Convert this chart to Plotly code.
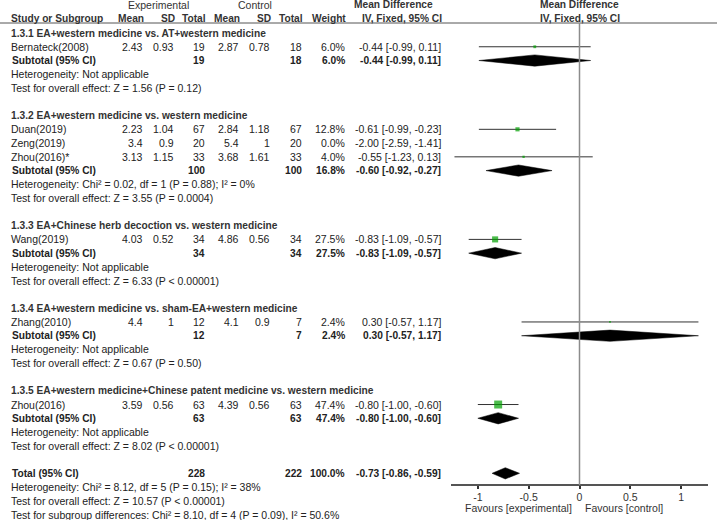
import plotly.graph_objects as go

W, H = 719, 520

# ---------------- data ----------------
studies = ["Bernateck(2008)", "Duan(2019)", "Zeng(2019)", "Zhou(2016)*",
           "Wang(2019)", "Zhang(2010)", "Zhou(2016)"]
study_group = [0, 1, 1, 1, 2, 3, 4]
exp_mean = [2.43, 2.23, 3.4, 3.13, 4.03, 4.4, 3.59]
exp_sd = [0.93, 1.04, 0.9, 1.15, 0.52, 1, 0.56]
exp_n = [19, 67, 20, 33, 34, 12, 63]
ctl_mean = [2.87, 2.84, 5.4, 3.68, 4.86, 4.1, 4.39]
ctl_sd = [0.78, 1.18, 1, 1.61, 0.56, 0.9, 0.56]
ctl_n = [18, 67, 20, 33, 34, 7, 63]
weight = [6.0, 12.8, 0.0, 4.0, 27.5, 2.4, 47.4]
md = [-0.44, -0.61, -2.00, -0.55, -0.83, 0.30, -0.80]
ci_lo = [-0.99, -0.99, -2.59, -1.23, -1.09, -0.57, -1.00]
ci_hi = [0.11, -0.23, -1.41, 0.13, -0.57, 1.17, -0.60]

group_titles = [
    "1.3.1 EA+western medicine vs. AT+western medicine",
    "1.3.2 EA+western medicine vs. western medicine",
    "1.3.3 EA+Chinese herb decoction vs. western medicine",
    "1.3.4 EA+western medicine vs. sham-EA+western medicine",
    "1.3.5 EA+western medicine+Chinese patent medicine vs. western medicine",
]
sub_exp_n = [19, 100, 34, 12, 63]
sub_ctl_n = [18, 100, 34, 7, 63]
sub_weight = [6.0, 16.8, 27.5, 2.4, 47.4]
sub_md = [-0.44, -0.60, -0.83, 0.30, -0.80]
sub_lo = [-0.99, -0.92, -1.09, -0.57, -1.00]
sub_hi = [0.11, -0.27, -0.57, 1.17, -0.60]
sub_het = [
    "Heterogeneity: Not applicable",
    "Heterogeneity: Chi² = 0.02, df = 1 (P = 0.88); I² = 0%",
    "Heterogeneity: Not applicable",
    "Heterogeneity: Not applicable",
    "Heterogeneity: Not applicable",
]
sub_test = [
    "Test for overall effect: Z = 1.56 (P = 0.12)",
    "Test for overall effect: Z = 3.55 (P = 0.0004)",
    "Test for overall effect: Z = 6.33 (P < 0.00001)",
    "Test for overall effect: Z = 0.67 (P = 0.50)",
    "Test for overall effect: Z = 8.02 (P < 0.00001)",
]
total_exp_n = 228
total_ctl_n = 222
total_weight = 100.0
total_md, total_lo, total_hi = -0.73, -0.86, -0.59
total_notes = [
    "Heterogeneity: Chi² = 8.12, df = 5 (P = 0.15); I² = 38%",
    "Test for overall effect: Z = 10.57 (P < 0.00001)",
    "Test for subgroup differences: Chi² = 8.10, df = 4 (P = 0.09), I² = 50.6%",
]
tick_vals = [-1, -0.5, 0, 0.5, 1]
tick_text = ["-1", "-0.5", "0", "0.5", "1"]

# ---------------- layout constants ----------------
ROW0_PX = 33.0
ROW_PX = 13.76
AXIS_PX = 485
HEADER_LINE_PX = 23
FONT = "Liberation Sans, Arial, sans-serif"
FS = 10.5
FSB = 10.2
TXT = "#222222"
HDR = "#333333"

col_right = dict(exp_mean=144, exp_sd=175, exp_n=206, ctl_mean=240,
                 ctl_sd=271, ctl_n=303, weight=346, ci=442)

def px(x):
    return x / W

def py(y):
    return 1 - y / H

annotations = []

def text(x, y, s, anchor="left", bold=False, color=TXT, xref="paper", yref="y"):
    annotations.append(dict(
        x=x, y=y, xref=xref, yref=yref, text=("<b>%s</b>" % s) if bold else s,
        showarrow=False, xanchor=anchor, yanchor="middle",
        font=dict(family=FONT, size=FSB if bold else FS, color=color), borderpad=0))

# ---------------- build rows ----------------
row = 0
study_rows = [None] * len(studies)
sub_rows = []
for g, title in enumerate(group_titles):
    text(px(10), row, title, bold=True, color=HDR)
    row += 1
    for i, s in enumerate(studies):
        if study_group[i] != g:
            continue
        study_rows[i] = row
        text(px(10), row, s)
        text(px(col_right["exp_mean"]), row, str(exp_mean[i]), "right")
        text(px(col_right["exp_sd"]), row, str(exp_sd[i]), "right")
        text(px(col_right["exp_n"]), row, str(exp_n[i]), "right")
        text(px(col_right["ctl_mean"]), row, str(ctl_mean[i]), "right")
        text(px(col_right["ctl_sd"]), row, str(ctl_sd[i]), "right")
        text(px(col_right["ctl_n"]), row, str(ctl_n[i]), "right")
        text(px(col_right["weight"]), row, "%.1f%%" % weight[i], "right")
        text(px(col_right["ci"]), row, "%.2f [%.2f, %.2f]" % (md[i], ci_lo[i], ci_hi[i]), "right")
        row += 1
    sub_rows.append(row)
    text(px(11), row, "Subtotal (95% CI)", bold=True)
    text(px(col_right["exp_n"]), row, str(sub_exp_n[g]), "right", bold=True)
    text(px(col_right["ctl_n"]), row, str(sub_ctl_n[g]), "right", bold=True)
    text(px(col_right["weight"]), row, "%.1f%%" % sub_weight[g], "right", bold=True)
    text(px(col_right["ci"]), row, "%.2f [%.2f, %.2f]" % (sub_md[g], sub_lo[g], sub_hi[g]), "right", bold=True)
    row += 1
    text(px(10), row, sub_het[g]); row += 1
    text(px(10), row, sub_test[g]); row += 1
    row += 1

total_row = row
text(px(11), row, "Total (95% CI)", bold=True)
text(px(col_right["exp_n"]), row, str(total_exp_n), "right", bold=True)
text(px(col_right["ctl_n"]), row, str(total_ctl_n), "right", bold=True)
text(px(col_right["weight"]), row, "%.1f%%" % total_weight, "right", bold=True)
text(px(col_right["ci"]), row, "%.2f [%.2f, %.2f]" % (total_md, total_lo, total_hi), "right", bold=True)
row += 1
for note in total_notes:
    text(px(10), row, note)
    row += 1

# ---------------- headers ----------------
text(px(158), py(5), "Experimental", "center", color=HDR, yref="paper")
text(px(255), py(5), "Control", "center", color=HDR, yref="paper")
text(px(434), py(5), "Mean Difference", "right", bold=True, color=HDR, yref="paper")
text(0, py(5), "Mean Difference", "center", bold=True, color=HDR, xref="x", yref="paper")
hdr_y = py(19)
text(px(10), hdr_y, "Study or Subgroup", bold=True, color=HDR, yref="paper")
for key, lab in [("exp_mean", "Mean"), ("exp_sd", "SD"), ("exp_n", "Total"),
                 ("ctl_mean", "Mean"), ("ctl_sd", "SD"), ("ctl_n", "Total"),
                 ("weight", "Weight"), ("ci", "IV, Fixed, 95% CI")]:
    text(px(col_right[key] + 1), hdr_y, lab, "right", bold=True, color=HDR, yref="paper")
text(0, hdr_y, "IV, Fixed, 95% CI", "center", bold=True, color=HDR, xref="x", yref="paper")
text(px(573), py(508), "Favours [experimental]", "right", color=HDR, yref="paper")
text(px(584), py(508), "Favours [control]", "left", color=HDR, yref="paper")

# ---------------- marks ----------------
fig = go.Figure()

lx, ly = [], []
for i in range(len(studies)):
    lx += [ci_lo[i], ci_hi[i], None]
    ly += [study_rows[i], study_rows[i], None]
fig.add_trace(go.Scatter(x=lx, y=ly, mode="lines", line=dict(color="#333333", width=1),
                         hoverinfo="skip", showlegend=False))

sizes = [1.16 * (w ** 0.5) if w > 0 else 0 for w in weight]
fig.add_trace(go.Scatter(x=md, y=study_rows, mode="markers",
                         marker=dict(symbol="square", size=sizes, color="#00a000",
                                     line=dict(width=0)),
                         showlegend=False))

HALF = 0.41
diamonds = list(zip(sub_md, sub_lo, sub_hi, sub_rows)) + [(total_md, total_lo, total_hi, total_row)]
for m, lo, hi, r in diamonds:
    fig.add_trace(go.Scatter(x=[lo, m, hi, m, lo], y=[r, r - HALF, r, r + HALF, r],
                             mode="lines", fill="toself", fillcolor="black",
                             line=dict(color="black", width=0.5), showlegend=False,
                             hoverinfo="skip"))

shapes = [
    dict(type="line", xref="paper", yref="paper", x0=0, x1=px(717),
         y0=py(HEADER_LINE_PX), y1=py(HEADER_LINE_PX), line=dict(color="#555555", width=1)),
    dict(type="line", xref="x", yref="paper", x0=0, x1=0,
         y0=py(AXIS_PX), y1=py(HEADER_LINE_PX), line=dict(color="#8c8c8c", width=1.5)),
]

y_top = -ROW0_PX / ROW_PX
y_bot = (H - ROW0_PX) / ROW_PX

fig.update_layout(
    width=W, height=H, margin=dict(l=0, r=0, t=0, b=0, pad=0),
    paper_bgcolor="white", plot_bgcolor="white",
    showlegend=False, annotations=annotations, shapes=shapes,
    font=dict(family=FONT, size=FS, color=HDR),
    xaxis=dict(domain=[px(451), px(708)], range=[-1.264, 1.264], anchor="free",
               position=py(AXIS_PX), showline=True, linecolor="#555555", linewidth=1.5,
               ticks="outside", ticklen=3, tickwidth=1.5, tickcolor="#333333",
               tickvals=tick_vals, ticktext=tick_text, showgrid=False, zeroline=False,
               tickfont=dict(family=FONT, size=FS, color=HDR), fixedrange=True),
    yaxis=dict(domain=[0, 1], range=[y_bot, y_top], visible=False, fixedrange=True),
)

fig.write_html("out.html", config={"displayModeBar": False},
               post_script="document.body.style.margin='0';document.body.style.overflow='hidden';")
